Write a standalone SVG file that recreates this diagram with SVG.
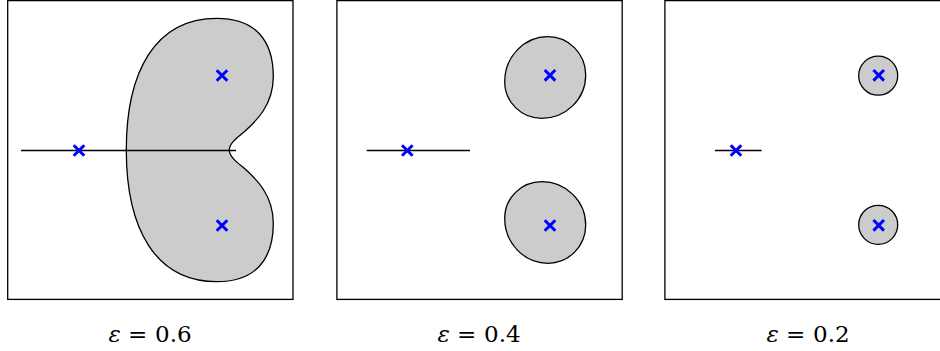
<svg xmlns="http://www.w3.org/2000/svg" width="940" height="351" viewBox="0 0 940 351">
<style>
.frame{fill:none;stroke:#000;stroke-width:1.3}
.region{fill:#cccccc;stroke:#000;stroke-width:1.3}
.cut{fill:none;stroke:#000;stroke-width:1.3}
.pole{fill:none;stroke:#0000ff;stroke-width:3}
.lbl{font-family:"DejaVu Serif","Liberation Serif",serif;font-size:23px;fill:#000}
.eps{font-style:italic}
</style>
<defs>
<path id="x" class="pole" d="M-5.3,-5.3L5.3,5.3M-5.3,5.3L5.3,-5.3"/>
</defs>
<g id="panel1">
<rect class="frame" x="7.7" y="0.6" width="285.3" height="298.8"/>
<path class="region" d="M229.3,150 C229.3,143 238,137 244,132 C256,121.4 273.3,105 273.3,76.7 C273.3,40 255,18.3 216.7,18.3 C155,18.3 126.3,72 126.3,150 C126.3,228 155,281.7 216.7,281.7 C255,281.7 273.3,260 273.3,223.3 C273.3,195 256,178.6 244,168 C238,163 229.3,157 229.3,150 Z"/>
<line class="cut" x1="21" y1="150.5" x2="236" y2="150.5"/>
<use href="#x" x="79" y="150.5"/>
<use href="#x" x="222" y="75.5"/>
<use href="#x" x="222" y="225.5"/>
</g>
<g id="panel2">
<rect class="frame" x="336.9" y="0.6" width="285.3" height="298.8"/>
<path class="region" d="M548,36.7 C568.8,36.7 585.7,53.8 585.7,75 C585.7,99 566,118.3 541.7,118.3 C521.3,118.3 504.7,102 504.7,81.7 C504.7,56.8 524.1,36.7 548,36.7 Z"/>
<path class="region" d="M548,263.3 C568.8,263.3 585.7,246.2 585.7,225 C585.7,201 566,181.7 541.7,181.7 C521.3,181.7 504.7,198 504.7,218.3 C504.7,243.2 524.1,263.3 548,263.3 Z"/>
<line class="cut" x1="366.7" y1="150.5" x2="470" y2="150.5"/>
<use href="#x" x="407.3" y="150.5"/>
<use href="#x" x="550" y="75.3"/>
<use href="#x" x="550" y="225.5"/>
</g>
<g id="panel3">
<rect class="frame" x="664.9" y="0.6" width="285.3" height="298.8"/>
<circle class="region" cx="878.2" cy="75.7" r="19.5"/>
<circle class="region" cx="878.2" cy="224.8" r="19.5"/>
<line class="cut" x1="715" y1="150.5" x2="761.7" y2="150.5"/>
<use href="#x" x="736" y="150.5"/>
<use href="#x" x="878.7" y="75.3"/>
<use href="#x" x="878.7" y="225.3"/>
</g>
<g id="labels">
<text class="lbl" y="342"><tspan class="eps" x="108.5">ε</tspan><tspan x="128">=</tspan><tspan x="155">0.6</tspan></text>
<text class="lbl" y="342"><tspan class="eps" x="437.5">ε</tspan><tspan x="457">=</tspan><tspan x="484">0.4</tspan></text>
<text class="lbl" y="342"><tspan class="eps" x="766.5">ε</tspan><tspan x="786">=</tspan><tspan x="813">0.2</tspan></text>
</g>
</svg>
